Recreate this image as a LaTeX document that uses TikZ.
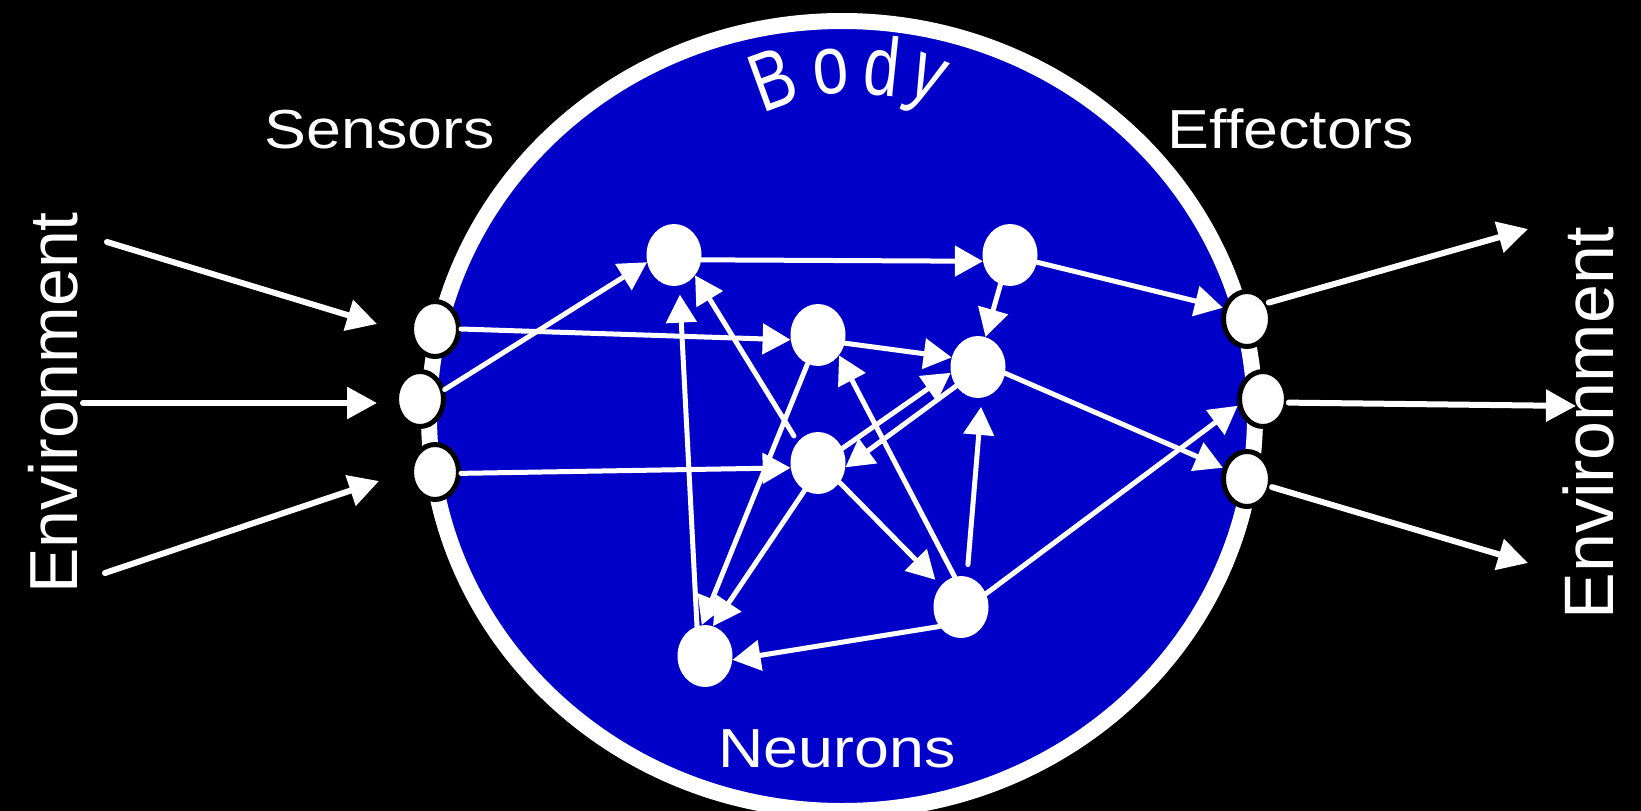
\documentclass[tikz,border=0pt]{standalone}
\usepackage{fontspec}
\setmainfont{Liberation Sans}
\usetikzlibrary{shapes.geometric,arrows.meta}
\definecolor{bodyblue}{RGB}{0,0,200}
\begin{document}
\begin{tikzpicture}[x=1pt,y=-1pt,
  neuron/.style={ellipse,fill=white,minimum width=55pt,minimum height=62pt,inner sep=0pt},
  port/.style={ellipse,fill=white,draw=black,line width=5pt,minimum width=47pt,minimum height=55pt,inner sep=0pt},
  arr/.style={draw=white,line width=5pt,line cap=round,-{Triangle[length=28pt,width=30pt]}},
  extarr/.style={draw=white,line width=6pt,line cap=round,-{Triangle[length=30pt,width=31pt]}},
  lbl/.style={text=white,inner sep=0pt,font=\fontsize{55}{55}\selectfont,xscale=1.14},
  bodyl/.style={text=white,inner sep=0pt,font=\fontsize{64}{64}\selectfont},
  envl/.style={text=white,inner sep=0pt,rotate=90}]
\fill[black] (0,0) rectangle (1641,811);
\useasboundingbox (0,0) rectangle (1641,811);
% body
\draw[white,line width=16pt,fill=bodyblue] (842,416) ellipse [x radius=413, y radius=395];
% labels
\node[lbl,anchor=base] (sensors) at (380,148) {Sensors};
\node[lbl,anchor=base] (effectors) at (1291,148) {Effectors};
\node[lbl,anchor=base] (neurons) at (837,767) {Neurons};
\node[bodyl,rotate=20,yscale=1.3] (bB) at (773,79) {B};
\node[bodyl,rotate=6,yscale=1.3] (bo) at (831,72) {o};
\node[bodyl,rotate=-6,yscale=1.3] (bd) at (882,66) {d};
\node[bodyl,rotate=-22,yscale=1.3] (by) at (924,86) {y};
\node[envl,font=\fontsize{68}{68}\selectfont] (envleft) at (53,403) {Environment};
\node[envl,font=\fontsize{70}{70}\selectfont] (envright) at (1588,423) {Environment};
% ports
\node[port] (s1) at (435,329) {};
\node[port] (s2) at (420,399) {};
\node[port] (s3) at (435,472) {};
\node[port] (e1) at (1247,319) {};
\node[port] (e2) at (1263,399) {};
\node[port] (e3) at (1247,479) {};
% neurons
\node[neuron] (n1) at (674,255) {};
\node[neuron] (n2) at (1010,255) {};
\node[neuron] (n3) at (818,335) {};
\node[neuron] (n4) at (978,367) {};
\node[neuron] (n5) at (818,463) {};
\node[neuron] (n6) at (961,607) {};
\node[neuron] (n7) at (705,656) {};
% environment coordinates
\coordinate (envL1) at (107,242);
\coordinate (tipL1) at (377,324);
\coordinate (envL2) at (83,403);
\coordinate (tipL2) at (377,403);
\coordinate (envL3) at (105,573);
\coordinate (tipL3) at (379,481);
\coordinate (envR1) at (1528,229);
\coordinate (envR2) at (1576,406);
\coordinate (envR3) at (1528,563);
% external arrows
\draw[extarr] (envL1) -- (tipL1);
\draw[extarr] (envL2) -- (tipL2);
\draw[extarr] (envL3) -- (tipL3);
\draw[extarr] (e1.37) -- (envR1);
\draw[extarr] (e2.-8) -- (envR2);
\draw[extarr] (e3.-18) -- (envR3);
% internal arrows
\draw[arr] (s1.0) -- (n3.190);
\draw[arr] (s2.21) -- (n1.195);
\draw[arr] (s3.-3) -- (n5.190);
\draw[arr] (n1.-10) -- (n2.193);
\draw[arr] (n2.252) -- (n4.76);
\draw[arr] (n2.345) -- (e1.155);
\draw[arr] (n3.343) -- (n4.160);
\draw[arr] (n4.347) -- (e3.155);
\draw[arr] (n5.31) -- (n4.192);
\draw[arr] (n4.221) -- (n5.351);
\draw[arr,shorten <=7pt] (n5.134) -- (n1.316);
\draw[arr] (n3.250) -- (n7.96);
\draw[arr] (n5.244) -- (n7.75);
\draw[arr,shorten >=9pt] (n7.105) -- (n1.280);
\draw[arr,shorten >=8pt] (n5.318) -- (n6.133);
\draw[arr] (n6.102) -- (n3.316);
\draw[arr,shorten <=12pt,shorten >=9pt] (n6.79) -- (n4.277);
\draw[arr] (n6.28) -- (e2.195);
\draw[arr] (n6.222) -- (n7.352);
\end{tikzpicture}
\end{document}
